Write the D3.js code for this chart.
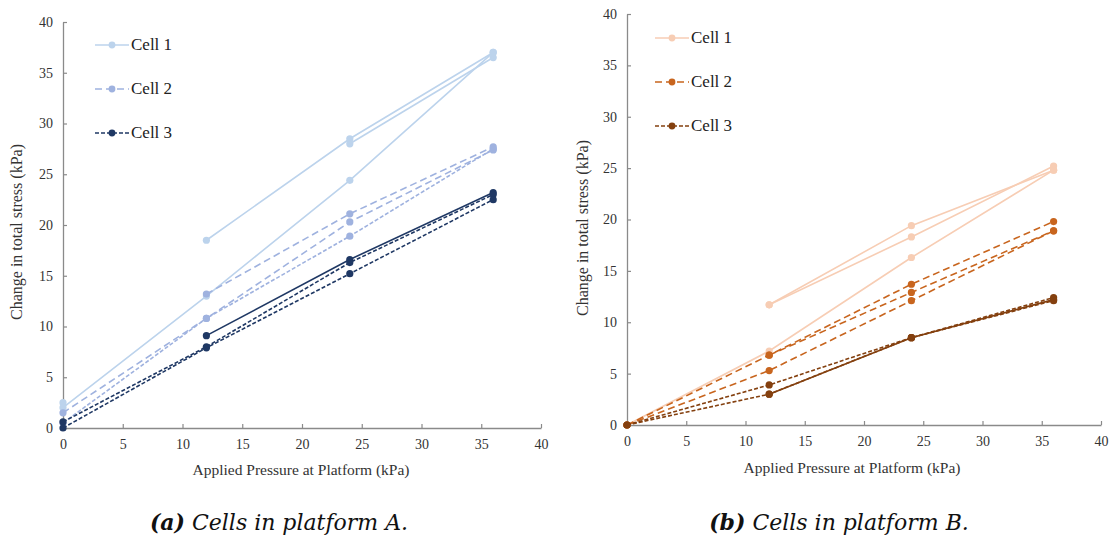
<!DOCTYPE html>
<html><head><meta charset="utf-8">
<script src="https://cdn.jsdelivr.net/npm/d3@7"></script>
<style>
html,body{margin:0;padding:0;background:#fff;}
svg{display:block;}
</style></head>
<body>
<svg id="chart" width="1112" height="541"></svg>
<script>
// ---------- DATA ----------
const pressures = [0, 12, 24, 36];
const xTicks = [0, 5, 10, 15, 20, 25, 30, 35, 40];
const yTicks = [0, 5, 10, 15, 20, 25, 30, 35, 40];
const legendLabels = ["Cell 1", "Cell 2", "Cell 3"];

// Platform A: each cell has three loading series; null = no reading
const aCell1 = [[null, 18.5, 28.5, 37.0], [2.5, null, 28.0, 36.5], [2.0, 13.0, 24.4, 37.0]];
const aCell2 = [[1.5, 10.8, 20.3, 27.4], [0.5, 10.8, 18.9, 27.5], [null, 13.2, 21.1, 27.7]];
const aCell3 = [[null, 9.1, 16.6, 23.2], [0.6, 8.0, 16.3, 23.0], [0.0, 7.9, 15.2, 22.5]];

// Platform B
const bCell1 = [[null, 11.7, 19.4, 24.8], [null, 11.7, 18.3, 25.2], [0.0, 7.2, 16.3, 24.8]];
const bCell2 = [[null, 6.8, 12.9, 18.9], [0.0, 6.8, 13.7, 19.8], [0.0, 5.3, 12.1, 18.9]];
const bCell3 = [[null, 3.0, 8.5, 12.2], [0.0, 3.9, 8.5, 12.4], [0.0, 3.0, 8.5, 12.1]];

const xTitle = "Applied Pressure at Platform (kPa)";
const yTitle = "Change in total stress (kPa)";
const captions = [["(a)", " Cells in platform A."], ["(b)", " Cells in platform B."]];

// ---------- STYLE ----------
const colorsA = ["#bcd3ec", "#9fb2df", "#1f3864"];
const colorsB = ["#f7cdb4", "#c8651e", "#84400f"];
const legendDash = [null, "7,4", "4,2"];
const dashA = [[null, null, null], ["7,4", "4,2", "7,4"], [null, "4,2", "4,2"]];
const dashB = [[null, null, null], ["7,4", "7,4", "7,4"], [null, "4,2", "4,2"]];
const SERIF = '"Liberation Serif", "Times New Roman", serif';
const CAPFONT = '"DejaVu Serif", serif';

const svg = d3.select("#chart");

function panel(cfg) {
  const x = d3.scaleLinear().domain([0, 40]).range([cfg.x0, cfg.x1]);
  const y = d3.scaleLinear().domain([0, 40]).range([cfg.y0, cfg.y1]);
  const g = svg.append("g");

  const xAxis = d3.axisBottom(x).tickValues(xTicks).tickSizeInner(-4).tickSizeOuter(0).tickPadding(11);
  const gx = g.append("g").attr("transform", `translate(0,${cfg.y0})`).call(xAxis);
  const yAxis = d3.axisLeft(y).tickValues(yTicks).tickSizeInner(-4).tickSizeOuter(0).tickPadding(10);
  const gy = g.append("g").attr("transform", `translate(${cfg.x0},0)`).call(yAxis);
  [gx, gy].forEach(a => {
    a.selectAll("path").attr("stroke", "#8a8a8a").attr("stroke-width", 1.3);
    a.selectAll("line").attr("stroke", "#8a8a8a").attr("stroke-width", 1.2);
    a.selectAll("text").style("font-family", SERIF).style("font-size", "14px").attr("fill", "#333");
  });

  const line = d3.line().defined(d => d[1] != null).x(d => x(d[0])).y(d => y(d[1]));
  cfg.cells.forEach((cell, ci) => {
    cell.forEach((vals, si) => {
      const pts = pressures.map((p, i) => [p, vals[i]]);
      g.append("path").datum(pts).attr("d", line)
        .attr("fill", "none").attr("stroke", cfg.colors[ci]).attr("stroke-width", 1.6)
        .attr("stroke-dasharray", cfg.dash[ci][si]);
      g.selectAll(null).data(pts.filter(d => d[1] != null)).enter().append("circle")
        .attr("cx", d => x(d[0])).attr("cy", d => y(d[1])).attr("r", 3.6)
        .attr("fill", cfg.colors[ci]);
    });
  });

  legendLabels.forEach((lab, i) => {
    const ly = cfg.legY + i * 44;
    g.append("line").attr("x1", cfg.legX).attr("x2", cfg.legX + 34).attr("y1", ly).attr("y2", ly)
      .attr("stroke", cfg.colors[i]).attr("stroke-width", 1.6).attr("stroke-dasharray", legendDash[i]);
    g.append("circle").attr("cx", cfg.legX + 17).attr("cy", ly).attr("r", 3.4).attr("fill", cfg.colors[i]);
    g.append("text").attr("x", cfg.legX + 36).attr("y", ly + 5).text(lab)
      .style("font-family", SERIF).style("font-size", "17px").attr("fill", "#222");
  });

  g.append("text").attr("x", cfg.xtX).attr("y", cfg.xtY).attr("text-anchor", "middle")
    .style("font-family", SERIF).style("font-size", "15.5px").attr("fill", "#333").text(xTitle);
  g.append("text").attr("transform", `translate(${cfg.ytX},${cfg.ytY}) rotate(-90)`)
    .attr("text-anchor", "middle").style("font-family", SERIF).style("font-size", "16px")
    .attr("fill", "#333").text(yTitle);

  const t = svg.append("text").attr("x", cfg.capX).attr("y", 530)
    .attr("text-anchor", "middle").style("font-family", CAPFONT).style("font-style", "italic")
    .style("font-size", "22px").attr("fill", "#111");
  t.append("tspan").style("font-weight", "bold").text(cfg.caption[0]);
  t.append("tspan").text(cfg.caption[1]);
}

panel({x0: 63, x1: 541, y0: 428, y1: 22, cells: [aCell1, aCell2, aCell3], colors: colorsA, dash: dashA,
  legX: 95, legY: 45, xtX: 301, xtY: 475, ytX: 22, ytY: 232, capX: 279, caption: captions[0]});
panel({x0: 627, x1: 1101, y0: 425, y1: 14, cells: [bCell1, bCell2, bCell3], colors: colorsB, dash: dashB,
  legX: 655, legY: 38, xtX: 852, xtY: 473, ytX: 588, ytY: 228, capX: 839, caption: captions[1]});
</script>
</body></html>
